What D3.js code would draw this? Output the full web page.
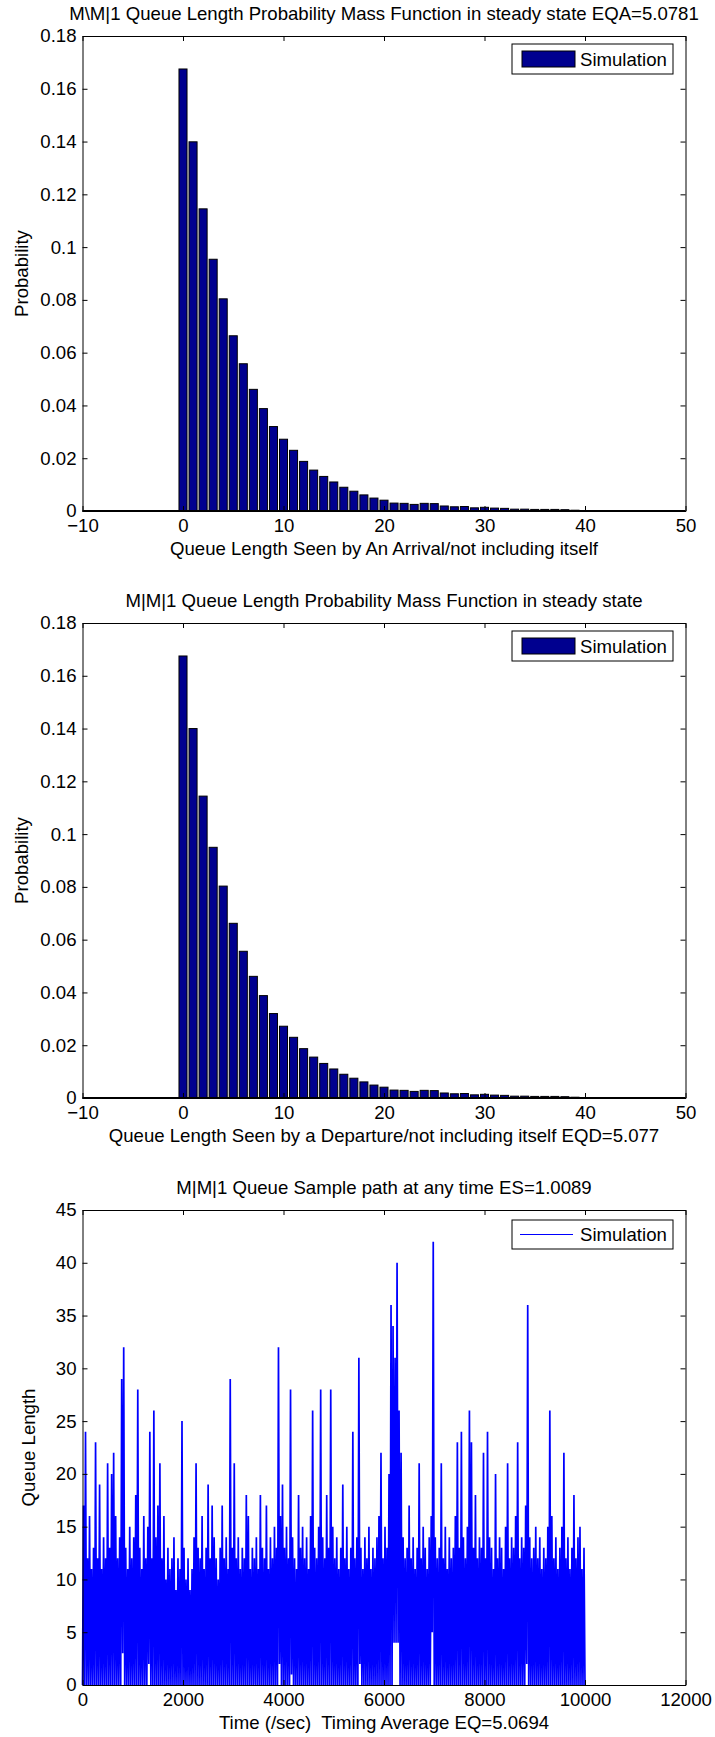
<!DOCTYPE html>
<html>
<head>
<meta charset="utf-8">
<script src="https://cdn.jsdelivr.net/npm/d3@7"></script>
<style>
  body { margin: 0; background: #fff; }
  text { font-family: "Liberation Sans", Arial, Helvetica, sans-serif; fill: #000; white-space: pre; }
</style>
</head>
<body>
<div id="chart"></div>
<script>
// DATA
const queueLengths = [0,1,2,3,4,5,6,7,8,9,10,11,12,13,14,15,16,17,18,19,20,
  21,22,23,24,25,26,27,28,29,30,31,32,33,34,35,36,37,38,39,40];

// PMF seen by an arrival
const arrivalPmf = [0.1675,0.1399,0.1145,0.0954,0.0804,0.0664,0.0558,0.0461,0.0388,0.0320,
  0.0272,0.0230,0.0188,0.0155,0.0131,0.0110,0.0090,0.0075,0.0061,0.0049,
  0.0041,0.0030,0.0029,0.0025,0.0029,0.0028,0.0019,0.0016,0.0017,0.0012,
  0.0014,0.0011,0.0010,0.0007,0.0007,0.0006,0.0006,0.0006,0.0005,0.0003,0.0001];

// PMF seen by a departure
const departurePmf = [0.1675,0.1400,0.1144,0.0950,0.0803,0.0662,0.0556,0.0461,0.0388,0.0320,
  0.0272,0.0230,0.0187,0.0155,0.0131,0.0110,0.0090,0.0075,0.0061,0.0049,
  0.0041,0.0030,0.0029,0.0025,0.0029,0.0028,0.0019,0.0016,0.0017,0.0012,
  0.0014,0.0011,0.0010,0.0007,0.0007,0.0006,0.0006,0.0006,0.0005,0.0003,0.0001];

// sample path: local peak of the queue length in each 40 s bin (0 .. 10000 s)
const pathBinWidth = 40;
const pathPeaks = [
  17,24,12,16,11,13,23,12,19,11,14,12,21,13,20,22,16,12,14,29,32,13,11,15,12,
  14,18,28,13,11,16,12,15,24,12,26,14,17,21,12,16,10,13,11,12,14,9,12,11,25,
  13,10,12,9,11,14,21,13,12,16,11,13,19,12,17,14,12,10,13,17,12,14,11,29,13,
  21,12,14,11,13,12,18,16,11,13,12,14,11,18,13,12,17,11,14,12,15,13,32,16,19,
  13,15,12,28,14,12,11,18,13,15,12,14,11,16,26,13,12,15,28,14,12,18,13,28,15,
  12,14,11,13,19,12,15,11,13,24,12,14,31,13,11,14,12,15,11,13,12,14,16,22,12,
  15,13,20,36,34,31,40,26,22,14,12,13,17,12,14,11,13,21,12,15,13,11,14,16,42,
  14,12,13,21,12,15,11,14,12,13,16,23,13,24,14,12,15,26,23,13,18,12,14,13,22,
  12,24,14,13,11,20,12,14,13,11,15,21,12,14,13,16,23,12,14,13,17,36,14,12,13,
  15,12,14,11,13,12,15,26,16,12,14,11,13,15,22,12,14,11,13,18,12,14,15,11,13
];
// times where the queue did not empty (white slivers at the bottom)
const pathLowTimes = [800, 1320, 3920, 4160, 5520, 6200, 6240, 6280, 6960, 8840];
const pathLowValues = [3, 2, 2, 1, 2, 4, 4, 4, 5, 2];
const pathEnd = 10000;

// tick labels
const pmfXTicks = [-10, 0, 10, 20, 30, 40, 50];
const pmfYTicks = [0, 0.02, 0.04, 0.06, 0.08, 0.1, 0.12, 0.14, 0.16, 0.18];
const pathXTicks = [0, 2000, 4000, 6000, 8000, 10000, 12000];
const pathYTicks = [0, 5, 10, 15, 20, 25, 30, 35, 40, 45];

// CHART CODE
const svgWidth = 715;
const svgHeight = 1737;
const fontSize = 18.6;

const plotLeft = 82.5;
const plotWidth = 603;
const plotHeight = 475;
const plotTops = [36, 623, 1210];

const svg = d3.select("#chart")
  .append("svg")
  .attr("width", svgWidth)
  .attr("height", svgHeight)
  .style("display", "block");

svg.append("rect")
  .attr("width", svgWidth)
  .attr("height", svgHeight)
  .attr("fill", "#fff");

// Draws frame, inward ticks on all 4 sides, labels and titles
const drawFrame = function(g, x, y, opts) {
  const styleAxis = sel => {
    sel.attr("font-size", fontSize).attr("font-family", null);
    sel.select(".domain").attr("stroke", "#000").attr("stroke-width", 1);
    sel.selectAll(".tick line").attr("stroke", "#000");
  };

  g.append("g")
    .attr("transform", `translate(0, ${plotHeight})`)
    .call(d3.axisBottom(x).tickValues(opts.xTicks).tickSize(-5).tickSizeOuter(0)
      .tickPadding(8).tickFormat(opts.xFormat))
    .call(styleAxis);

  g.append("g")
    .call(d3.axisTop(x).tickValues(opts.xTicks).tickSize(-5).tickSizeOuter(0).tickFormat(""))
    .call(styleAxis);

  g.append("g")
    .call(d3.axisLeft(y).tickValues(opts.yTicks).tickSize(-5).tickSizeOuter(0)
      .tickPadding(6).tickFormat(opts.yFormat))
    .call(styleAxis);

  g.append("g")
    .attr("transform", `translate(${plotWidth}, 0)`)
    .call(d3.axisRight(y).tickValues(opts.yTicks).tickSize(-5).tickSizeOuter(0).tickFormat(""))
    .call(styleAxis);

  g.selectAll(".tick text").attr("fill", "#000");

  // title
  g.append("text")
    .attr("x", plotWidth / 2)
    .attr("y", -16)
    .attr("text-anchor", "middle")
    .attr("font-size", fontSize)
    .text(opts.title);

  // x label
  g.append("text")
    .attr("x", plotWidth / 2)
    .attr("y", plotHeight + 44)
    .attr("text-anchor", "middle")
    .attr("font-size", fontSize)
    .text(opts.xLabel);

  // y label
  g.append("text")
    .attr("transform", `translate(${opts.yLabelX - plotLeft}, ${plotHeight / 2}) rotate(-90)`)
    .attr("text-anchor", "middle")
    .attr("font-size", fontSize)
    .text(opts.yLabel);
};

const drawLegend = function(g, kind, color, top, boxH) {
  const boxLeft = 512 - plotLeft;
  const boxRight = 673 - plotLeft;
  const legend = g.append("g").attr("transform", `translate(0, ${top})`);

  legend.append("rect")
    .attr("x", boxLeft)
    .attr("width", boxRight - boxLeft)
    .attr("height", boxH)
    .attr("fill", "#fff")
    .attr("stroke", "#000");

  if (kind === "bar") {
    legend.append("rect")
      .attr("x", 522 - plotLeft)
      .attr("y", boxH / 2 - 8)
      .attr("width", 53)
      .attr("height", 16)
      .attr("fill", color)
      .attr("stroke", "#000");
  } else {
    legend.append("line")
      .attr("x1", 520 - plotLeft)
      .attr("x2", 573 - plotLeft)
      .attr("y1", boxH / 2)
      .attr("y2", boxH / 2)
      .attr("stroke", color);
  }

  legend.append("text")
    .attr("x", 580 - plotLeft)
    .attr("y", boxH / 2 + 6.8)
    .attr("font-size", fontSize)
    .text("Simulation");
};

// PMF bar charts
const pmfCharts = [
  {
    values: arrivalPmf,
    title: "M\\M|1 Queue Length Probability Mass Function in steady state EQA=5.0781",
    xLabel: "Queue Length Seen by An Arrival/not including itself"
  },
  {
    values: departurePmf,
    title: "M|M|1 Queue Length Probability Mass Function in steady state",
    xLabel: "Queue Length Seen by a Departure/not including itself EQD=5.077"
  }
];

const barColor = "#00008f";

pmfCharts.forEach((chart, i) => {
  const g = svg.append("g")
    .attr("transform", `translate(${plotLeft}, ${plotTops[i]})`);

  const x = d3.scaleLinear().domain([-10, 50]).range([0, plotWidth]);
  const y = d3.scaleLinear().domain([0, 0.18]).range([plotHeight, 0]);

  g.selectAll("rect.bar")
    .data(queueLengths.map((q, k) => ({q: q, p: chart.values[k]})))
    .enter()
    .append("rect")
    .attr("class", "bar")
    .attr("x", d => x(d.q - 0.4))
    .attr("width", d => x(d.q + 0.4) - x(d.q - 0.4))
    .attr("y", d => y(d.p))
    .attr("height", d => y(0) - y(d.p))
    .attr("fill", barColor)
    .attr("stroke", "#000")
    .attr("stroke-width", 1);

  // bar baseline
  g.append("line")
    .attr("x1", 0)
    .attr("x2", plotWidth)
    .attr("y1", y(0))
    .attr("y2", y(0))
    .attr("stroke", "#000")
    .attr("stroke-width", 2);

  drawFrame(g, x, y, {
    xTicks: pmfXTicks,
    yTicks: pmfYTicks,
    xFormat: d3.format("d"),
    yFormat: d3.format("~g"),
    title: chart.title,
    xLabel: chart.xLabel,
    yLabel: "Probability",
    yLabelX: 28
  });

  drawLegend(g, "bar", barColor, 8, 30);
});

// Sample path chart
const pathGroup = svg.append("g")
  .attr("transform", `translate(${plotLeft}, ${plotTops[2]})`);

const xPath = d3.scaleLinear().domain([0, 12000]).range([0, plotWidth]);
const yPath = d3.scaleLinear().domain([0, 45]).range([plotHeight, 0]);

const pathPoints = [];
pathPeaks.forEach((peak, i) => {
  const t = i * pathBinWidth;
  const lowIndex = pathLowTimes.indexOf(t);
  pathPoints.push([t, lowIndex >= 0 ? pathLowValues[lowIndex] : 0]);
  pathPoints.push([t + pathBinWidth / 2, peak]);
});
pathPoints.push([pathEnd, 0]);

pathGroup.append("path")
  .datum(pathPoints)
  .attr("fill", "none")
  .attr("stroke", "#0000ff")
  .attr("stroke-width", 1.7)
  .attr("stroke-linejoin", "bevel")
  .attr("d", d3.line().x(d => xPath(d[0])).y(d => yPath(d[1])));

drawFrame(pathGroup, xPath, yPath, {
  xTicks: pathXTicks,
  yTicks: pathYTicks,
  xFormat: d3.format("d"),
  yFormat: d3.format("d"),
  title: "M|M|1 Queue Sample path at any time ES=1.0089",
  xLabel: "Time (/sec)  Timing Average EQ=5.0694",
  yLabel: "Queue Length",
  yLabelX: 35
});

drawLegend(pathGroup, "line", "#0000ff", 10, 29);
</script>
</body>
</html>
